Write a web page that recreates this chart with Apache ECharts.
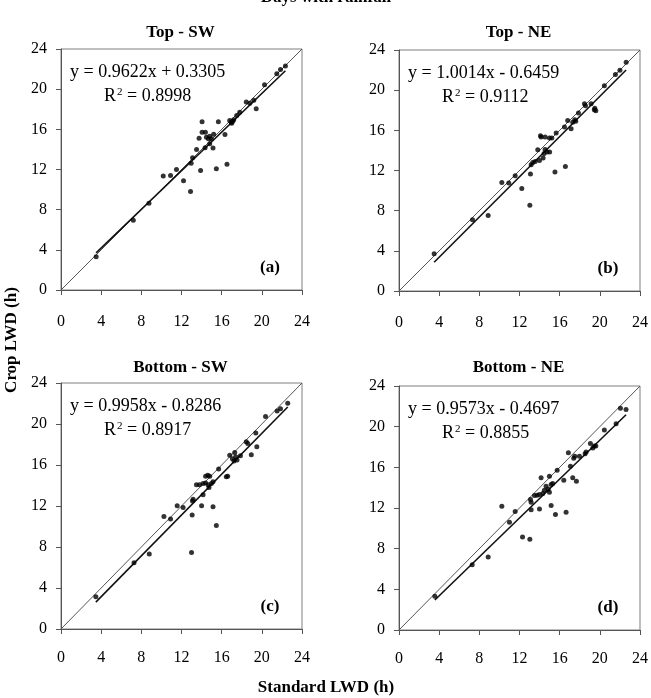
<!DOCTYPE html>
<html><head><meta charset="utf-8">
<script src="https://cdn.jsdelivr.net/npm/echarts@6/dist/echarts.min.js"></script>
<style>html,body{margin:0;padding:0;background:#fff}#c{width:651px;height:698px}</style>
</head><body><div id="c"></div>
<script>
// ---- data ----
var panelTitles = ["Top - SW", "Top - NE", "Bottom - SW", "Bottom - NE"];
var panelLetters = ["(a)", "(b)", "(c)", "(d)"];
var slopes = [0.9622, 1.0014, 0.9958, 0.9573];
var intercepts = [0.3305, -0.6459, -0.8286, -0.4697];
var eqTexts = ["y = 0.9622x + 0.3305", "y = 1.0014x - 0.6459", "y = 0.9958x - 0.8286", "y = 0.9573x - 0.4697"];
var r2Values = ["0.8998", "0.9112", "0.8917", "0.8855"];
var axisTicks = [0, 4, 8, 12, 16, 20, 24];

var topSW = [[3.5,3.32],[7.2,6.95],[8.76,8.64],[10.18,11.35],[10.91,11.4],[11.5,12.0],[12.2,10.87],[12.9,9.8],[12.96,12.63],[13.1,13.16],[13.5,14.0],[13.9,11.9],[13.75,15.1],[14.05,16.75],[14.05,15.7],[14.38,15.7],[14.48,15.22],[14.68,15.05],[14.8,15.3],[14.97,15.05],[14.81,14.56],[14.35,14.16],[15.14,14.13],[15.2,15.5],[15.67,16.75],[15.47,12.07],[16.33,15.49],[16.53,12.53],[16.8,16.88],[16.95,16.7],[17.1,16.8],[17.2,16.95],[17.0,16.6],[17.5,17.38],[17.8,17.71],[18.45,18.71],[18.8,18.6],[19.2,18.9],[19.44,18.05],[20.27,20.44],[21.49,21.53],[21.86,21.97],[22.35,22.3]];
var topNE = [[3.5,3.7],[7.32,7.09],[8.88,7.52],[10.24,10.8],[10.93,10.75],[11.57,11.48],[12.23,10.2],[13.03,8.55],[13.09,11.64],[13.16,12.57],[13.32,12.8],[13.56,12.9],[13.99,13.0],[13.82,14.07],[14.09,15.47],[14.15,15.33],[14.55,15.33],[14.98,15.23],[15.22,15.23],[14.35,13.24],[14.45,13.7],[14.55,14.1],[14.75,13.85],[15.0,13.85],[15.65,15.74],[15.53,11.85],[16.48,16.34],[16.57,12.4],[16.8,16.98],[17.14,16.15],[17.3,16.8],[17.5,17.05],[17.6,16.9],[17.87,17.72],[18.47,18.65],[18.57,18.45],[19.13,18.65],[19.5,18.2],[19.6,17.95],[19.45,18.05],[20.45,20.45],[21.55,21.55],[22.0,21.98],[22.62,22.77]];
var bottomSW = [[3.47,3.15],[7.27,6.46],[8.79,7.31],[10.25,10.98],[10.91,10.72],[11.57,12.02],[12.16,11.86],[13.06,11.11],[13.0,7.47],[13.09,12.49],[13.16,12.67],[14.0,12.02],[14.15,13.09],[13.49,14.07],[13.8,14.07],[14.15,14.2],[14.4,14.25],[14.65,14.07],[14.98,14.2],[15.14,14.36],[14.74,13.81],[14.4,14.9],[14.62,15.0],[14.81,14.9],[15.14,11.93],[15.47,10.1],[15.7,15.6],[16.46,14.85],[16.6,14.9],[16.8,16.96],[17.07,16.6],[17.23,16.4],[17.4,16.8],[17.53,16.5],[17.87,16.9],[17.3,17.22],[18.45,18.28],[18.6,18.1],[18.95,17.0],[19.4,19.13],[19.5,17.77],[20.37,20.73],[21.52,21.28],[21.86,21.5],[22.58,22.02]];
var bottomNE = [[3.57,3.31],[7.29,6.43],[8.88,7.18],[10.24,12.18],[11.0,10.6],[11.57,11.65],[12.3,9.15],[13.03,8.93],[13.16,11.84],[13.09,12.83],[13.16,12.57],[13.49,13.23],[13.75,13.25],[13.99,13.32],[14.32,13.42],[14.48,13.75],[14.65,14.15],[14.98,13.56],[14.85,13.85],[15.15,14.31],[15.3,14.4],[13.99,11.91],[14.15,14.97],[14.98,15.13],[15.15,12.24],[15.58,11.36],[15.75,15.72],[16.41,14.74],[16.64,11.58],[16.87,17.43],[17.07,16.1],[17.3,14.97],[17.4,16.9],[17.5,17.1],[17.67,14.64],[17.97,17.1],[18.53,17.33],[18.63,17.5],[19.06,18.35],[19.3,17.9],[19.45,18.1],[19.6,18.1],[20.45,19.66],[21.62,20.29],[22.05,21.8],[22.61,21.7]];

// ---- layout ----
var panels = [topSW, topNE, bottomSW, bottomNE];
var grids = [
  {left: 61, top: 49, width: 241, height: 241},
  {left: 399, top: 50, width: 241, height: 241},
  {left: 61, top: 383, width: 241, height: 246},
  {left: 399, top: 386, width: 241, height: 244}
];
var FONT = '"Liberation Serif", "Times New Roman", serif';

var option = {
  animation: false,
  backgroundColor: '#fff',
  textStyle: {fontFamily: FONT},
  grid: [], xAxis: [], yAxis: [], series: [], graphic: []
};

grids.forEach(function (g, i) {
  option.grid.push({left: g.left, top: g.top, width: g.width, height: g.height,
    show: true, borderColor: '#7f7f7f', borderWidth: 1, backgroundColor: 'transparent'});
  var bottomRow = i >= 2;
  option.xAxis.push({type: 'value', gridIndex: i, min: 0, max: 24, interval: 4,
    axisLine: {show: true, lineStyle: {color: '#555', width: 1}},
    axisTick: {show: true, inside: false, length: 5, lineStyle: {color: '#555'}},
    splitLine: {show: false},
    axisLabel: {color: '#000', fontFamily: FONT, fontSize: 16, margin: bottomRow ? 21 : 24}});
  option.yAxis.push({type: 'value', gridIndex: i, min: 0, max: 24, interval: 4,
    axisLine: {show: true, lineStyle: {color: '#555', width: 1}},
    axisTick: {show: true, inside: false, length: 5, lineStyle: {color: '#555'}},
    splitLine: {show: false},
    axisLabel: {color: '#000', fontFamily: FONT, fontSize: 16, margin: 14}});

  // 1:1 line
  option.series.push({type: 'line', xAxisIndex: i, yAxisIndex: i, symbol: 'none', silent: true,
    data: [[axisTicks[0], axisTicks[0]], [axisTicks[6], axisTicks[6]]],
    lineStyle: {color: '#555', width: 1}, z: 2});

  // regression line over data x range
  var xs = panels[i].map(function (p) { return p[0]; });
  var x0 = Math.min.apply(null, xs), x1 = Math.max.apply(null, xs);
  option.series.push({type: 'line', xAxisIndex: i, yAxisIndex: i, symbol: 'none', silent: true,
    data: [[x0, slopes[i] * x0 + intercepts[i]], [x1, slopes[i] * x1 + intercepts[i]]],
    lineStyle: {color: '#111', width: 1.6}, z: 3});

  // points
  option.series.push({type: 'scatter', xAxisIndex: i, yAxisIndex: i, data: panels[i],
    symbol: 'circle', symbolSize: 5, itemStyle: {color: '#000'}, z: 4});

  // texts
  option.graphic.push({type: 'text', left: g.left + 9, top: g.top + 14,
    style: {text: eqTexts[i], font: '18px ' + FONT, fill: '#000'}});
  option.graphic.push({type: 'text', left: g.left + 43, top: g.top + 38,
    style: {text: '{n|R}{s|2}{n| = ' + r2Values[i] + '}', fill: '#000',
      rich: {n: {fontFamily: FONT, fontSize: 18, color: '#000'},
             s: {fontFamily: FONT, fontSize: 11, color: '#000', verticalAlign: 'top', padding: [0, 0, 0, 1]}}}});
  option.graphic.push({type: 'text', x: g.left + 209, y: g.top + g.height - 22,
    style: {text: panelLetters[i], font: 'bold 17px ' + FONT, fill: '#000', textAlign: 'center', textVerticalAlign: 'middle'}});
  option.graphic.push({type: 'text', x: g.left + g.width / 2 - 1, y: bottomRow ? 368 : 33,
    style: {text: panelTitles[i], font: 'bold 17px ' + FONT, fill: '#000', textAlign: 'center', textVerticalAlign: 'middle'}});
});

option.graphic.push({type: 'text', x: 326, y: -2,
  style: {text: 'Days with rainfall', font: 'bold 17px ' + FONT, fill: '#000', textAlign: 'center', textVerticalAlign: 'middle'}});
option.graphic.push({type: 'text', x: 326, y: 688,
  style: {text: 'Standard LWD (h)', font: 'bold 17px ' + FONT, fill: '#000', textAlign: 'center', textVerticalAlign: 'middle'}});
option.graphic.push({type: 'text', x: 12, y: 340, rotation: Math.PI / 2,
  style: {text: 'Crop LWD (h)', font: 'bold 17px ' + FONT, fill: '#000', textAlign: 'center', textVerticalAlign: 'middle'}});

var chart = echarts.init(document.getElementById('c'), null, {renderer: 'canvas'});
chart.setOption(option);
</script>
</body></html>
